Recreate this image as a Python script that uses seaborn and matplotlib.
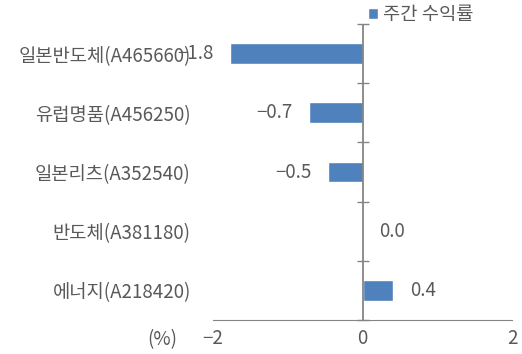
import numpy as np
import pandas as pd
import matplotlib.pyplot as plt
import seaborn as sns

# weekly returns (%) per ETF
names = ['일본반도체(A465660)', '유럽명품(A456250)', '일본리츠(A352540)', '반도체(A381180)', '에너지(A218420)']
returns = [-1.77, -0.71, -0.46, 0.0, 0.41]
xticks = [-2, 0, 2]

sns.set_style("white")
plt.rcParams['font.family'] = ['Noto Sans CJK KR', 'DejaVu Sans']
plt.rcParams['axes.unicode_minus'] = True

gray = '#595959'
line_gray = '#858585'
fs = 13.5

df = pd.DataFrame({'name': names, 'ret': returns})

fig, ax = plt.subplots(figsize=(5.22, 3.54), dpi=100)
fig.subplots_adjust(left=0.408, right=0.981, top=0.932, bottom=0.096)

sns.barplot(data=df, x='ret', y='name', color='#4F81BD', saturation=1,
            width=0.35, ax=ax, label='주간 수익률')

ax.set_xlim(-2, 2)
ax.set_ylim(len(names) - 0.5, -0.5)
ax.set_xticks(xticks)
ax.set_xticklabels([str(t).replace('-', '\u2212') for t in xticks])
ax.set_xlabel('')
ax.set_ylabel('')

for s in ['top', 'right', 'left']:
    ax.spines[s].set_visible(False)
ax.spines['bottom'].set_color(line_gray)
ax.tick_params(axis='x', direction='in', length=4, color=line_gray,
               labelsize=fs, labelcolor=gray, pad=6)
ax.tick_params(axis='y', length=0, labelsize=fs, labelcolor=gray, pad=16)

# vertical axis at zero, with cross ticks between categories
ax.axvline(0, color=line_gray, linewidth=1.3, linestyle='solid', zorder=4)
bounds = np.arange(-0.5, len(names), 1)
ax.plot(np.zeros_like(bounds), bounds, color=line_gray, linestyle='none', marker='_',
        markersize=9, markeredgewidth=1, zorder=4, clip_on=False)

labels = [f'{v:.1f}'.replace('-', '\u2212') for v in returns]
ax.bar_label(ax.containers[0], labels=labels, padding=12, fontsize=fs, color=gray)

ax.legend(handles=[ax.containers[0]], labels=['주간 수익률'],
          loc='center left', bbox_to_anchor=(0.705, 0.958), bbox_transform=fig.transFigure,
          frameon=False, handlelength=0.55, handleheight=0.55, handletextpad=0.25,
          borderaxespad=0, borderpad=0, fontsize=fs, labelcolor=gray)

fig.text(162 / 522, 1 - 340 / 354, '(%)', ha='center', va='center', fontsize=fs, color=gray)

plt.savefig('out.png', dpi=100)
